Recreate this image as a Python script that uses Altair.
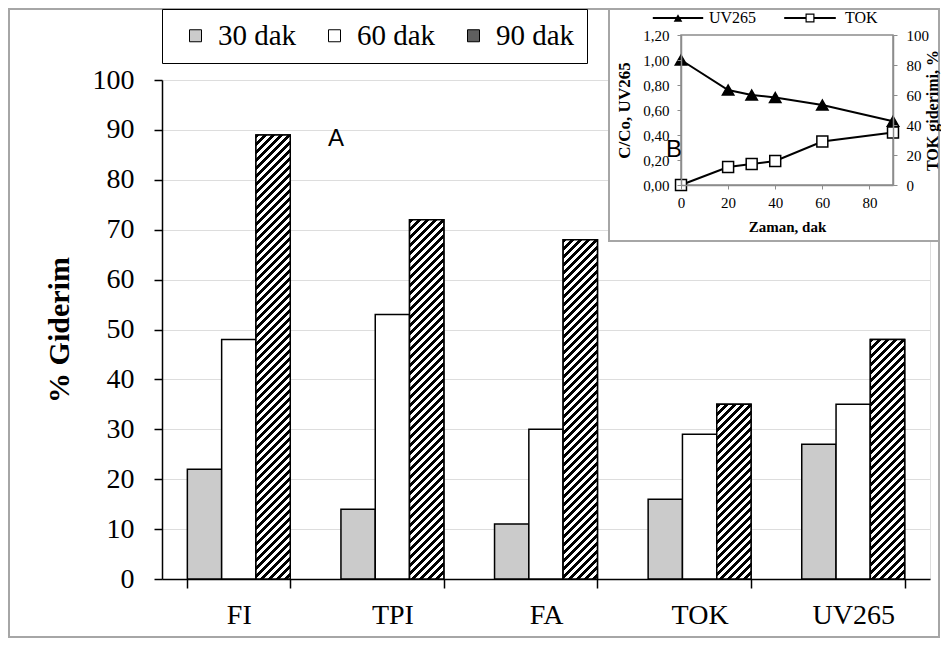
import altair as alt
import pandas as pd

# ---------------- data ----------------
categories = ["FI", "TPI", "FA", "TOK", "UV265"]
durations = ["30 dak", "60 dak", "90 dak"]
removal_30 = [22, 14, 11, 16, 27]
removal_60 = [48, 53, 30, 29, 35]
removal_90 = [89, 72, 68, 35, 48]

time_min = [0, 20, 30, 40, 60, 90]
uv265_ratio = [1.00, 0.76, 0.72, 0.70, 0.64, 0.51]
tok_removal = [0, 12, 14, 16, 29, 35]

main_y_ticks = [0, 10, 20, 30, 40, 50, 60, 70, 80, 90, 100]
inset_x_ticks = [0, 20, 40, 60, 80]
inset_left_ticks = [0, 0.2, 0.4, 0.6, 0.8, 1.0, 1.2]
inset_right_ticks = [0, 20, 40, 60, 80, 100]

# ---------------- tables ----------------
rows = []
for i, c in enumerate(categories):
    for d, vals in zip(durations, [removal_30, removal_60, removal_90]):
        rows.append({"kategori": c, "sure": d, "deger": vals[i]})
bars_df = pd.DataFrame(rows)

inset_df = pd.DataFrame({"zaman": time_min, "uv": uv265_ratio, "tok": tok_removal})
inset_df["seri_uv"] = "UV265"
inset_df["seri_tok"] = "TOK"

one = pd.DataFrame({"k": [0]})

# ---------------- layout ----------------
W, H = 768, 499
P_IN, P_OUT = 0.33, 0.165
step = W / (len(categories) - P_IN + 2 * P_OUT)
BAR_W = step * (1 - P_IN) / 3

SERIF = "Liberation Serif"

x_main = alt.Scale(domain=categories, paddingInner=P_IN, paddingOuter=P_OUT)
xo_main = alt.Scale(domain=durations, paddingInner=0, paddingOuter=0)
y_main = alt.Scale(domain=[0, 100], nice=False, zero=True)

x_in = alt.Scale(domain=[0, 90], range=[519, 731], nice=False, zero=False)
y_uv = alt.Scale(domain=[0, 1.2], range=[105, -45], nice=False, zero=False)
y_tok = alt.Scale(domain=[0, 100], range=[105, -45], nice=False, zero=False)


def hatch(value):
    w = BAR_W
    h = value * H / 100.0
    denom = w * w + h * h
    period = 8.0
    total = w + h
    stops = []
    s = 0.0
    while s < total:
        a = min(s * w / denom, 1.0)
        b = min((s + period / 2) * w / denom, 1.0)
        c = min((s + period) * w / denom, 1.0)
        stops += [
            {"offset": round(a, 6), "color": "black"},
            {"offset": round(b, 6), "color": "black"},
            {"offset": round(b, 6), "color": "white"},
            {"offset": round(c, 6), "color": "white"},
        ]
        s += period
    return {"gradient": "linear", "x1": 0, "y1": 0, "x2": 1, "y2": h / w, "stops": stops}


# outer figure frame
frame = alt.Chart(one).mark_rect(fill="transparent", stroke="#a6a6a6", strokeWidth=2).encode(
    x=alt.value(-153), x2=alt.value(777), y=alt.value(-71), y2=alt.value(557)
)

bars = alt.Chart(bars_df).mark_bar(stroke="black", strokeWidth=1.5).encode(
    x=alt.X("kategori:N", scale=x_main, sort=categories,
            axis=alt.Axis(orient="bottom", title=None, labelAngle=0, labelFont=SERIF,
                          labelFontSize=28, labelColor="black", labelPadding=13,
                          tickSize=9, tickColor="black", tickWidth=1.5, tickBand="extent",
                          domainColor="black", domainWidth=1.5)),
    xOffset=alt.XOffset("sure:N", scale=xo_main, sort=durations),
    y=alt.Y("deger:Q", scale=y_main,
            axis=alt.Axis(orient="left", values=main_y_ticks, title="% Giderim",
                          titleFont=SERIF, titleFontSize=30, titleFontWeight="bold",
                          titleColor="black", titlePadding=18,
                          labelFont=SERIF, labelFontSize=28, labelColor="black",
                          labelPadding=20, labelFlush=False, labelOverlap=False,
                          tickSize=8, tickColor="black", tickWidth=1.5,
                          domainColor="black", domainWidth=1.5)),
    fill=alt.Fill("sure:N", scale=alt.Scale(domain=durations, range=["#cbcbcb", "#ffffff", "#5f5f5f"]),
                  legend=alt.Legend(orient="none", legendX=0, legendY=-71, direction="horizontal",
                                    title=None, strokeColor="black", fillColor="white", padding=12,
                                    symbolType="square", symbolSize=144, symbolStrokeColor="black",
                                    symbolStrokeWidth=1, symbolOffset=7,
                                    labelFont=SERIF, labelFontSize=29, labelColor="black",
                                    labelOffset=8, columnPadding=16)),
)

overlays = []
for i, c in enumerate(categories):
    overlays.append(
        alt.Chart(bars_df)
        .transform_filter((alt.datum.kategori == c) & (alt.datum.sure == "90 dak"))
        .mark_bar(fill=hatch(removal_90[i]), stroke="black", strokeWidth=1.5)
        .encode(
            x=alt.X("kategori:N", scale=x_main, sort=categories, axis=None),
            xOffset=alt.XOffset("sure:N", scale=xo_main, sort=durations),
            y=alt.Y("deger:Q", scale=y_main, axis=None),
        )
    )

label_a = alt.Chart(pd.DataFrame({"t": ["A"]})).mark_text(
    font="Liberation Sans", fontSize=24, align="center", baseline="middle", color="black"
).encode(text="t:N", x=alt.value(174), y=alt.value(59))

# inset box
inset_box = alt.Chart(one).mark_rect(fill="white", stroke="#a6a6a6", strokeWidth=2).encode(
    x=alt.value(447), x2=alt.value(777), y=alt.value(-71), y2=alt.value(161)
)

inset_frame = alt.Chart(one).mark_rect(fill="transparent", stroke="#8c8c8c", strokeWidth=1.5).encode(
    x=alt.XDatum(0, type="quantitative", scale=x_in, axis=None),
    x2=alt.X2Datum(90),
    y=alt.YDatum(0, type="quantitative", scale=y_uv, axis=None),
    y2=alt.Y2Datum(1.2),
)

uv_line = alt.Chart(inset_df).mark_line(color="black", strokeWidth=2).encode(
    x=alt.X("zaman:Q", scale=x_in, axis=None),
    y=alt.Y("uv:Q", scale=y_uv, axis=None),
)

# legend keys drawn as filled outlines (line + marker)
PATH_UV = "M-4.2,-0.17H4.2V0.17H-4.2Z M0,-0.62L0.72,0.62L-0.72,0.62Z"
PATH_TOK = ("M-4.3,-0.17H-0.7V0.17H-4.3Z M0.7,-0.17H4.3V0.17H0.7Z "
            "M-0.75,-0.75H0.75V0.75H-0.75Z M-0.55,-0.55V0.55H0.55V-0.55Z")

uv_pts = alt.Chart(inset_df).mark_point(shape="triangle-up", filled=True, fill="black", stroke="black",
                                        strokeWidth=1.5, size=130, opacity=1).encode(
    x=alt.X("zaman:Q", scale=x_in,
            axis=alt.Axis(orient="bottom", offset=-394, values=inset_x_ticks, title="Zaman, dak",
                          titleFont=SERIF, titleFontSize=15, titleFontWeight="bold",
                          titleColor="black", titlePadding=9,
                          labelFont=SERIF, labelFontSize=15, labelColor="black", labelPadding=6,
                          labelFlush=False, labelOverlap=False,
                          tickSize=4, tickColor="#8c8c8c", domainColor="#8c8c8c",
                          domainWidth=1.5, zindex=1)),
    y=alt.Y("uv:Q", scale=y_uv,
            axis=alt.Axis(orient="left", offset=-519, values=inset_left_ticks, title="C/Co, UV265",
                          labelExpr="replace(format(datum.value, '.2f'), '.', ',')",
                          titleFont=SERIF, titleFontSize=17, titleFontWeight="bold",
                          titleColor="black", titlePadding=9,
                          labelFont=SERIF, labelFontSize=15, labelColor="black", labelPadding=8,
                          labelFlush=False, labelOverlap=False,
                          tickSize=4, tickColor="#8c8c8c", domainColor="#8c8c8c",
                          domainWidth=1.5, zindex=1)),
)

uv_key = alt.Chart(inset_df).transform_filter("false").mark_point(
    filled=True, fill="black", opacity=1
).encode(
    shape=alt.Shape("seri_uv:N", scale=alt.Scale(domain=["UV265"], range=[PATH_UV]),
                    legend=alt.Legend(orient="none", legendX=508, legendY=-70, title=None, padding=0,
                                      symbolSize=144, symbolFillColor="black",
                                      labelFont=SERIF, labelFontSize=16, labelColor="black",
                                      labelOffset=23)),
)

tok_line = alt.Chart(inset_df).mark_line(color="black", strokeWidth=2).encode(
    x=alt.X("zaman:Q", scale=x_in, axis=None),
    y=alt.Y("tok:Q", scale=y_tok, axis=None),
)

tok_pts = alt.Chart(inset_df).mark_point(shape="square", filled=True, fill="white", stroke="black",
                                         strokeWidth=1.5, size=120, opacity=1).encode(
    x=alt.X("zaman:Q", scale=x_in, axis=None),
    y=alt.Y("tok:Q", scale=y_tok,
            axis=alt.Axis(orient="right", offset=-37, values=inset_right_ticks, title="TOK giderimi, %",
                          titleAngle=270, titleBaseline="top",
                          titleFont=SERIF, titleFontSize=16, titleFontWeight="bold",
                          titleColor="black", titlePadding=-4,
                          labelFont=SERIF, labelFontSize=15, labelColor="black", labelPadding=9,
                          labelFlush=False, labelOverlap=False,
                          tickSize=4, tickColor="#8c8c8c", domainColor="#8c8c8c",
                          domainWidth=1.5, zindex=1)),
)

tok_key = alt.Chart(inset_df).transform_filter("false").mark_point(
    filled=True, fill="black", opacity=1
).encode(
    shape=alt.Shape("seri_tok:N", scale=alt.Scale(domain=["TOK"], range=[PATH_TOK]),
                    legend=alt.Legend(orient="none", legendX=640, legendY=-70, title=None, padding=0,
                                      symbolSize=144, symbolFillColor="black",
                                      labelFont=SERIF, labelFontSize=16, labelColor="black",
                                      labelOffset=27)),
)

label_b = alt.Chart(pd.DataFrame({"t": ["B"]})).mark_text(
    font="Liberation Sans", fontSize=24, align="center", baseline="middle", color="black"
).encode(text="t:N", x=alt.value(512), y=alt.value(70))

chart = (
    alt.layer(frame, bars, *overlays, label_a, inset_box, inset_frame,
              uv_line, uv_pts, tok_line, tok_pts, uv_key, tok_key, label_b)
    .resolve_scale(x="independent", y="independent", xOffset="independent", shape="independent")
    .resolve_axis(x="independent", y="independent")
    .resolve_legend(shape="independent")
    .properties(width=W, height=H,
                padding={"left": 154, "top": 72, "right": 11, "bottom": 60},
                autosize=alt.AutoSizeParams(type="none"))
    .configure_view(stroke="black", strokeWidth=1.5)
    .configure_axis(grid=False)
    .configure(font=SERIF, background="white")
)

chart.save("out.html", embed_options={"renderer": "svg", "actions": False})
